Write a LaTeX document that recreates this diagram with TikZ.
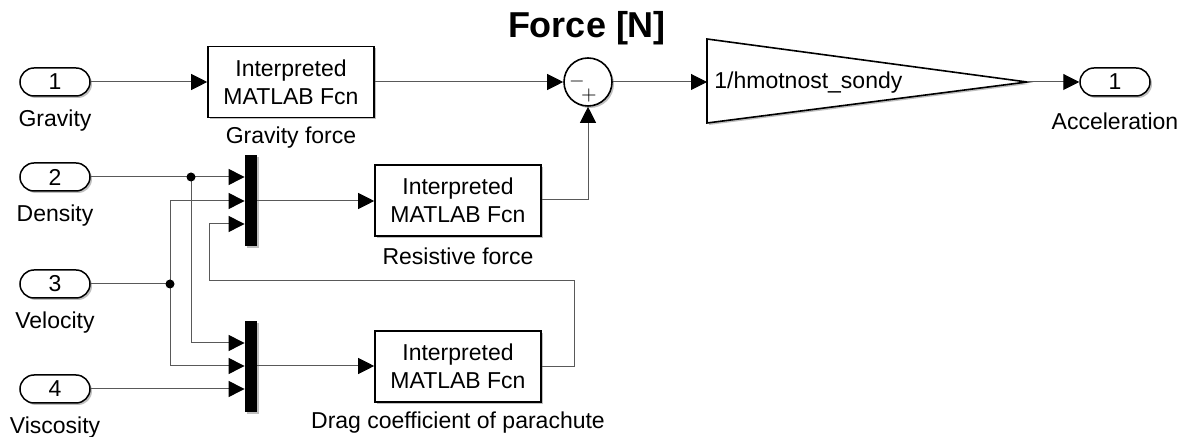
\documentclass[tikz,border=0pt]{standalone}
\usepackage{fontspec}
\setmainfont{Liberation Sans}
\usetikzlibrary{arrows.meta,shadows,calc}
\begin{document}
\begin{tikzpicture}[x=0.5pt,y=-0.5pt,
  font=\fontsize{11.5pt}{14pt}\selectfont,
  shad/.style={drop shadow={shadow xshift=1pt,shadow yshift=-1pt,opacity=0.25,fill=black}},
  port/.style={draw,line width=0.75pt,rounded corners=7pt,minimum width=35pt,minimum height=14pt,inner sep=0pt,fill=white,shad},
  fcn/.style={draw,line width=0.8pt,minimum width=83pt,minimum height=35.5pt,align=center,inner sep=0pt,fill=white,shad},
  muxbar/.style={fill=black,minimum width=6pt,minimum height=45.5pt,inner sep=0pt,shad},
  sumc/.style={draw,line width=0.8pt,circle,minimum size=24pt,inner sep=0pt,fill=white,shad},
  lbl/.style={inner sep=0pt},
  wire/.style={draw=black!65,line width=0.5pt},
  arr/.style={wire,-{Triangle[length=8pt,width=8pt,fill=black,color=black]}},
  dot/.style={circle,fill=black,minimum size=4.5pt,inner sep=0pt}
]
\useasboundingbox (0,0) rectangle (1188,437);

% title
\node[lbl,font=\fontsize{18pt}{20pt}\selectfont\bfseries] (title) at (587,28) {Force [N]};

% inports
\node[port] (in1) at (55,82) {1};
\node[lbl] (l1) at (55,121) {Gravity};
\node[port] (in2) at (55,177) {2};
\node[lbl] (l2) at (55,216) {Density};
\node[port] (in3) at (55,284) {3};
\node[lbl] (l3) at (55,323) {Velocity};
\node[port] (in4) at (55,389) {4};
\node[lbl] (l4) at (55,428) {Viscosity};

% function blocks
\node[fcn] (grav) at (291,82) {Interpreted\\MATLAB Fcn};
\node[lbl] (lg) at (291,138) {Gravity force};
\node[fcn] (res) at (458,200.5) {Interpreted\\MATLAB Fcn};
\node[lbl] (lr) at (458,256) {Resistive force};
\node[fcn] (drag) at (458,366.5) {Interpreted\\MATLAB Fcn};
\node[lbl] (ld) at (458,423) {Drag coefficient of parachute};

% muxes
\node[muxbar] (m1) at (251,200.5) {};
\node[muxbar] (m2) at (251,366.5) {};

% sum
\node[sumc] (sum) at (588,82) {};
\node[lbl,font=\fontsize{10pt}{10pt}\selectfont] (sminus) at (577,82) {$-$};
\node[lbl,font=\fontsize{10pt}{10pt}\selectfont] (splus) at (589,96) {$+$};

% gain
\coordinate (gin) at (707,82);
\coordinate (gtip) at (1027,82);
\draw[line width=0.8pt,fill=white,shad] (707,39) -- (1027,82) -- (707,123) -- cycle;
\node[lbl,anchor=west] (gtxt) at (714,83) {1/hmotnost\_sondy};

% outport
\node[port] (out1) at (1115,82) {1};
\node[lbl] (lo) at (1115,121) {Acceleration};

% junctions
\coordinate (j2) at (191,177);
\coordinate (j3) at (170,284);
\coordinate (fb) at (574,367);

% wires
\draw[arr] (in1.east) -- (grav.west);
\draw[arr] (grav.east) -- (sum.west);
\draw[arr] (sum.east) -- (gin);
\draw[arr] (gtip) -- (out1.west);

\draw[arr] (in2.east) -- (m1.west |- in2.east);
\draw[arr] (j2) -- (191,343) -- (m2.west |- 0,343);
\draw[wire] (in3.east) -- (j3);
\draw[arr] (j3) -- (170,201) -- (m1.west |- 0,201);
\draw[arr] (j3) -- (170,366) -- (m2.west |- 0,366);
\draw[arr] (in4.east) -- (m2.west |- in4.east);

\draw[arr] (m1.east |- 0,201) -- (res.west |- 0,201);
\draw[arr] (m2.east |- 0,366) -- (drag.west |- 0,366);

\draw[arr] (res.east |- 0,200) -- (588,200) -- (sum.south);
\draw[arr] (drag.east |- fb) -- (fb) -- (574,281) -- (209,281) -- (209,224) -- (m1.west |- 0,224);

\node[dot] (d2) at (j2) {};
\node[dot] (d3) at (j3) {};
\end{tikzpicture}
\end{document}
